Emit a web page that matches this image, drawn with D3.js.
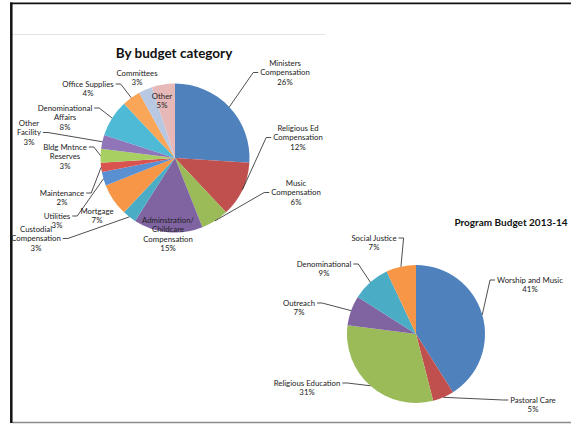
<!DOCTYPE html>
<html>
<head>
<meta charset="utf-8">
<script src="https://cdn.jsdelivr.net/npm/d3@7"></script>
<style>
  body { margin: 0; background: #fff; }
  svg { display: block; font-family: Lato, "Open Sans", sans-serif; }
  .lbl { fill: #222; }
</style>
</head>
<body>
<div id="chart"></div>
<script>
// Budget by category (percent)
const categoryNames = [
    ['Ministers', 'Compensation'], ['Religious Ed', 'Compensation'], ['Music', 'Compensation'],
    ['Adminstration/', 'Childcare', 'Compensation'], ['Custodial', 'Compensation'], ['Mortgage'],
    ['Utilities'], ['Maintenance'], ['Bldg Mntnce', 'Reserves'], ['Other', 'Facility'],
    ['Denominational', 'Affairs'], ['Office Supplies'], ['Committees'], ['Other']
];
const categoryValues = [26, 12, 6, 15, 3, 7, 3, 2, 3, 3, 8, 4, 3, 5];
const categoryColors = [
    '#4f81bd', '#c0504d', '#9bbb59', '#8064a2', '#4bacc6', '#f79646',
    '#5a8fd2', '#d9534f', '#a8cf62', '#9075b8', '#4fbad6', '#f9a659', '#b9c8e2', '#e6b9b8'
];

// Program budget 2013-14 (percent)
const programNames = [['Worship and Music'], ['Pastoral Care'], ['Religious Education'],
    ['Outreach'], ['Denominational'], ['Social Justice']];
const programValues = [41, 5, 31, 7, 9, 7];
const programColors = ['#4f81bd', '#c0504d', '#9bbb59', '#8064a2', '#4bacc6', '#f79646'];

// label placement (offset of first text line from pie centre, leader side and line)
const categoryLabelLayout = [
    { dx: 110, dy: -95, side: 'left', line: 1 },
    { dx: 123, dy: -30, side: 'left', line: 1 },
    { dx: 121, dy: 25, side: 'left', line: 1 },
    { dx: -7, dy: 62, side: 'none' },
    { dx: -139, dy: 71, side: 'right', line: 1 },
    { dx: -78, dy: 53, side: 'none' },
    { dx: -118, dy: 58, side: 'right', line: 0 },
    { dx: -113, dy: 35, side: 'right', line: 0 },
    { dx: -110, dy: -11, side: 'right', line: 0 },
    { dx: -146, dy: -35, side: 'right', line: 1 },
    { dx: -110, dy: -50, side: 'right', line: 0 },
    { dx: -87, dy: -74, side: 'right', line: 0 },
    { dx: -38, dy: -85, side: 'none' },
    { dx: -13, dy: -62, side: 'none' }
];
const programLabelLayout = [
    { dx: 114, dy: -54, side: 'left', line: 0 },
    { dx: 117, dy: 66, side: 'left', line: 0 },
    { dx: -109, dy: 49, side: 'right', line: 0 },
    { dx: -117, dy: -31, side: 'right', line: 0 },
    { dx: -92, dy: -70, side: 'right', line: 0 },
    { dx: -42, dy: -96, side: 'right', line: 0 }
];

const width = 571;
const height = 424;

const svg = d3.select('#chart')
    .append('svg')
    .attr('width', width)
    .attr('height', height);

svg.append('rect').attr('width', width).attr('height', height).attr('fill', '#fff');

// frame around the slide
svg.append('line').attr('x1', 12).attr('x2', 325).attr('y1', 34.5).attr('y2', 34.5)
    .attr('stroke', '#e3e3e3').attr('stroke-width', 1);
svg.append('line').attr('x1', 12).attr('x2', width).attr('y1', 422.5).attr('y2', 422.5)
    .attr('stroke', '#8a8a8a').attr('stroke-width', 1.5);
svg.append('line').attr('x1', 10).attr('x2', width).attr('y1', 3.3).attr('y2', 3.3)
    .attr('stroke', '#111').attr('stroke-width', 1.8);
svg.append('line').attr('x1', 11.3).attr('x2', 11.3).attr('y1', 2.5).attr('y2', 423)
    .attr('stroke', '#111').attr('stroke-width', 2.5);

function drawPie(opts) {
    const g = svg.append('g').attr('transform', `translate(${opts.cx},${opts.cy})`);
    const pie = d3.pie().sort(null).value(d => d)(opts.values);
    const arc = d3.arc().innerRadius(0).outerRadius(opts.r);
    const edge = d3.arc().innerRadius(opts.r).outerRadius(opts.r);

    g.selectAll('path.slice')
        .data(pie)
        .join('path')
        .attr('class', 'slice')
        .attr('d', arc)
        .attr('fill', (d, i) => opts.colors[i]);

    pie.forEach((d, i) => {
        const lay = opts.layout[i];
        const lines = opts.names[i].concat([d.value + '%']);
        const t = g.append('g').attr('class', 'lbl');
        const widths = [];
        lines.forEach((s, k) => {
            const txt = t.append('text')
                .attr('x', lay.dx)
                .attr('y', lay.dy + k * opts.lineH)
                .attr('dy', '0.35em')
                .attr('text-anchor', 'middle')
                .style('font-size', opts.fontSize + 'px')
                .text(s);
            widths.push(txt.node().getComputedTextLength());
        });
        if (lay.side === 'none') return;
        // leader from the slice edge to the label
        const a = edge.centroid(d);
        const ly = lay.dy + lay.line * opts.lineH;
        const w = widths[lay.line];
        const ex = lay.side === 'left' ? lay.dx - w / 2 - 2 : lay.dx + w / 2 + 2;
        const bx = lay.side === 'left' ? ex - 5 : ex + 5;
        g.append('polyline')
            .attr('points', `${a[0]},${a[1]} ${bx},${ly} ${ex},${ly}`)
            .attr('fill', 'none')
            .attr('stroke', '#222')
            .attr('stroke-width', 0.8);
    });
}

drawPie({
    cx: 175, cy: 158, r: 74.5,
    values: categoryValues, names: categoryNames, colors: categoryColors,
    layout: categoryLabelLayout, fontSize: 7.8, lineH: 9.5
});

drawPie({
    cx: 416, cy: 334, r: 69,
    values: programValues, names: programNames, colors: programColors,
    layout: programLabelLayout, fontSize: 7.8, lineH: 9
});

svg.append('text')
    .attr('x', 174).attr('y', 53).attr('dy', '0.35em')
    .attr('text-anchor', 'middle')
    .style('font-size', '13.5px').style('font-weight', 'bold').style('fill', '#111')
    .text('By budget category');

svg.append('text')
    .attr('x', 511).attr('y', 222).attr('dy', '0.35em')
    .attr('text-anchor', 'middle')
    .style('font-size', '10px').style('font-weight', 'bold').style('fill', '#111')
    .text('Program Budget 2013-14');
</script>
</body>
</html>
